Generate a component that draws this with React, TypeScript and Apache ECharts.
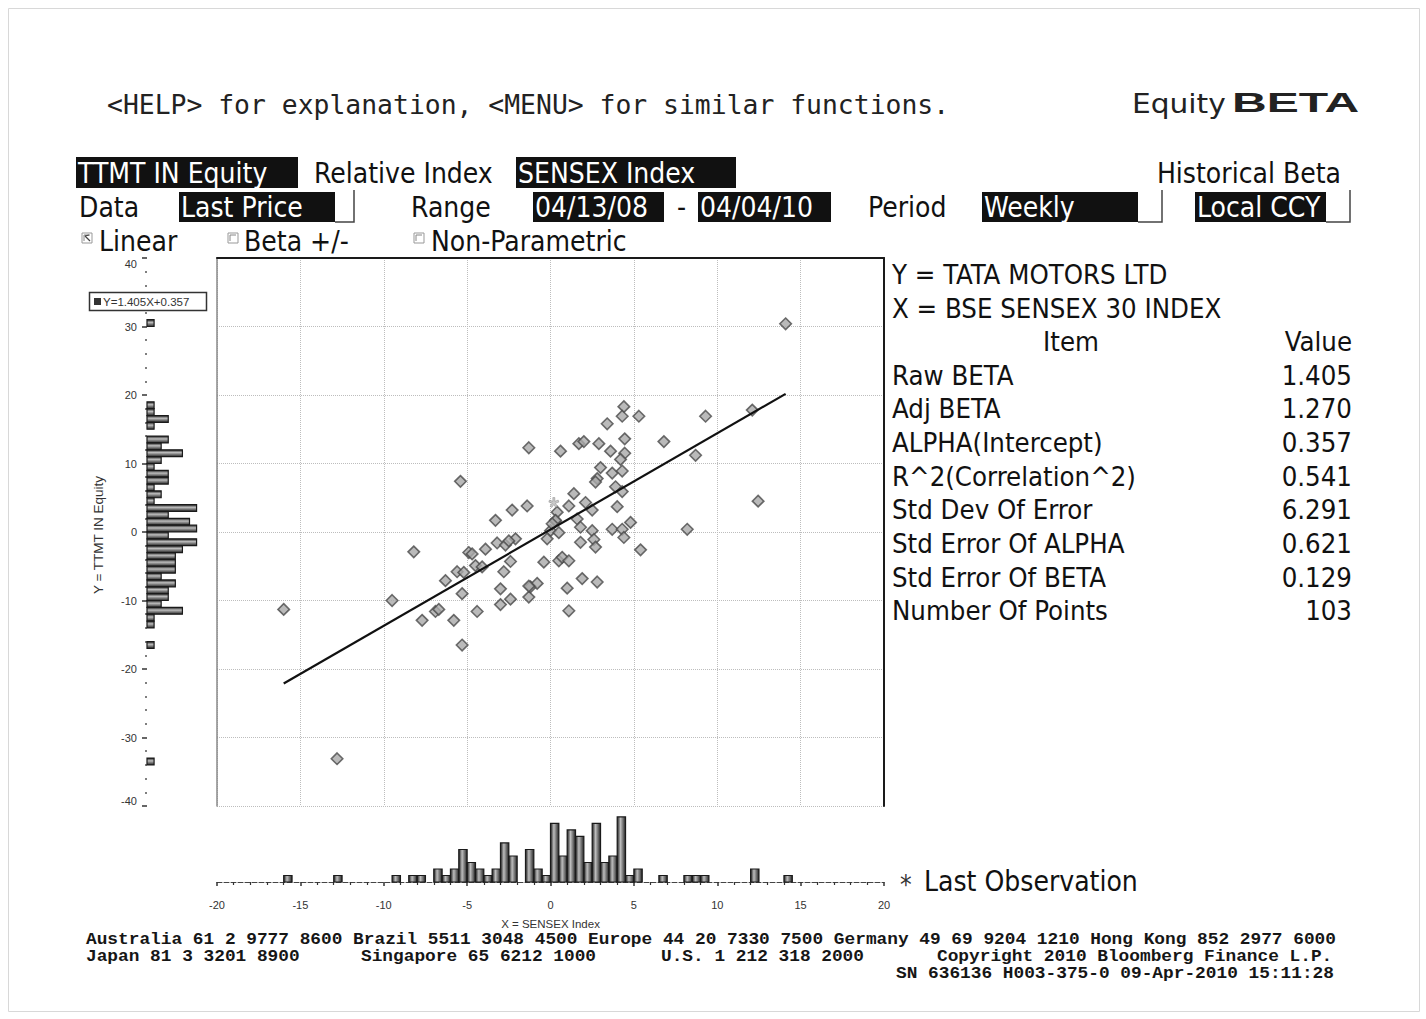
import React, { useEffect, useRef } from 'react';
import * as echarts from 'echarts';

// ---------- DATA ----------
// Weekly returns: [SENSEX (X), TTMT (Y)]
const scatterPoints: [number, number][] = [
  [14.1, 30.4], [-16.0, -11.3], [-12.8, -33.1], [-9.5, -10.0], [12.45, 4.5], [12.1, 17.8],
  [9.3, 16.9], [8.7, 11.2], [8.2, 0.4], [6.8, 13.2], [5.4, -2.6], [4.4, 18.3], [4.3, 16.9],
  [5.3, 16.9], [3.4, 15.8], [4.45, 13.6], [0.6, 11.8], [1.7, 12.9], [2.0, 13.2], [2.9, 12.9],
  [3.6, 11.8], [4.45, 11.5], [4.2, 10.6], [3.0, 9.4], [3.7, 8.6], [4.3, 8.9], [2.8, 7.8],
  [2.7, 7.3], [3.9, 6.6], [4.3, 5.9], [1.4, 5.6], [2.1, 4.3], [1.1, 3.8], [4.0, 3.7],
  [2.5, 3.2], [0.4, 2.9], [1.6, 1.9], [0.3, 1.6], [1.8, 0.7], [2.5, 0.2], [3.7, 0.4],
  [4.3, 0.4], [4.8, 1.4], [0.0, 0.2], [-0.2, -1.0], [0.5, -0.1], [2.6, -1.1], [1.8, -1.5],
  [2.7, -2.2], [4.4, -0.8], [0.5, -4.2], [0.7, -3.7], [1.1, -4.2], [-0.4, -4.4], [1.9, -6.8],
  [2.8, -7.3], [1.0, -8.2], [1.1, -11.5], [-8.2, -2.9], [-7.7, -12.9], [-6.9, -11.6],
  [-6.7, -11.3], [-5.8, -12.9], [-5.3, -16.5], [-5.3, -9.0], [-4.4, -11.6], [-6.3, -7.1],
  [-5.6, -5.8], [-5.2, -5.9], [-4.9, -3.0], [-4.7, -3.2], [-4.5, -4.9], [-4.1, -5.1],
  [-3.9, -2.5], [-3.2, -1.6], [-2.7, -1.9], [-2.1, -1.0], [-2.4, -4.3], [-2.8, -5.8],
  [-3.0, -8.3], [-3.0, -10.6], [-2.4, -9.8], [-1.3, -9.5], [-1.2, -8.0], [-0.8, -7.5],
  [-1.3, 12.3], [-5.4, 7.4], [-1.4, 3.8], [-2.3, 3.2], [-3.3, 1.7], [0.3, 1.7], [0.1, 1.2],
  [-2.5, -1.3], [-1.3, -7.9],
];
const lastObservation: [number, number] = [0.2, 4.3];

const RAW_BETA = 1.405;
const ALPHA = 0.357;

// X histogram (SENSEX), bins of 0.5
const X_BIN = 0.5;
const xHistBinStart = [-16, -13, -9.5, -8.5, -8, -7, -6.5, -6, -5.5, -5, -4.5, -4, -3.5, -3, -2.5,
  -1.5, -1, -0.5, 0, 0.5, 1, 1.5, 2, 2.5, 3, 3.5, 4, 4.5, 5, 6.5, 8, 8.5, 9, 12, 14];
const xHistCounts = [1, 1, 1, 1, 1, 2, 1, 2, 5, 3, 2, 1, 2, 6, 4,
  5, 2, 1, 9, 4, 8, 7, 3, 9, 3, 4, 10, 1, 2, 1, 1, 1, 1, 2, 1];

// Y histogram (TTMT), bins of 1
const Y_BIN = 1;
const yHistBinStart = [30, 18, 17, 16, 15, 13, 12, 11, 10, 9, 8, 7, 6, 5, 4, 3, 2, 1, 0, -1, -2, -3,
  -4, -5, -6, -7, -8, -9, -10, -11, -12, -13, -14, -17, -34];
const yHistCounts = [1, 1, 1, 3, 1, 3, 2, 5, 2, 1, 3, 3, 1, 2, 1, 7, 3, 6, 7, 3, 7, 5,
  4, 4, 4, 2, 4, 3, 3, 2, 5, 1, 1, 1, 1];

const X_MIN = -20, X_MAX = 20, X_INTERVAL = 5;
const Y_MIN = -40, Y_MAX = 40, Y_INTERVAL = 10;

const statItems = ['Raw BETA', 'Adj BETA', 'ALPHA(Intercept)', 'R^2(Correlation^2)', 'Std Dev Of Error',
  'Std Error Of ALPHA', 'Std Error Of BETA', 'Number Of Points'];
const statValues = ['1.405', '1.270', '0.357', '0.541', '6.291', '0.621', '0.129', '103'];

const footerLine1 = 'Australia 61 2 9777 8600 Brazil 5511 3048 4500 Europe 44 20 7330 7500 Germany 49 69 9204 1210 Hong Kong 852 2977 6000';
const footerLine2 = ['Japan 81 3 3201 8900', 'Singapore 65 6212 1000', 'U.S. 1 212 318 2000', 'Copyright 2010 Bloomberg Finance L.P.'];
const footerLine3 = 'SN 636136 H003-375-0 09-Apr-2010 15:11:28';

// ---------- STYLE ----------
const UI = '"DejaVu Sans Condensed", "DejaVu Sans", sans-serif';
const MONO = '"DejaVu Sans Mono", monospace';
const FOOT = '"Liberation Mono", monospace';
const SMALL = '"Liberation Sans", Arial, sans-serif';
const HDR = 28;
const STAT = 27.3;

function text(t: string, x: number, y: number, o: any = {}) {
  const style: any = {
    text: t, x, y,
    fontFamily: o.fontFamily || UI,
    fontSize: o.fontSize || HDR,
    fontWeight: o.fontWeight || 'normal',
    fill: o.fill || '#111',
    textAlign: o.align || 'left',
    textVerticalAlign: 'middle',
  };
  return { type: 'text', z: 10, style };
}
function footText(t: string, x: number, y: number, align: string = 'left') {
  return {
    type: 'text', z: 10, x, y, scaleX: 1.08,
    style: {
      text: t, x: 0, y: 0, fontFamily: FOOT, fontSize: 16.5, fontWeight: 'bold', fill: '#161616',
      textAlign: align, textVerticalAlign: 'middle',
    },
  };
}
function box(x: number, y: number, w: number, h: number) {
  return { type: 'rect', z: 5, shape: { x, y, width: w, height: h }, style: { fill: '#111' } };
}
function bracket(x0: number, x1: number, y0: number, y1: number) {
  return { type: 'polyline', z: 5, shape: { points: [[x0, y1], [x1, y1], [x1, y0]] }, style: { stroke: '#444', lineWidth: 1.5, fill: 'none' } };
}
function checkbox(x: number, y: number, checked: boolean) {
  const els: any[] = [
    { type: 'rect', z: 5, shape: { x, y, width: 10, height: 10 }, style: { fill: '#fff', stroke: '#999', lineWidth: 1 } },
    { type: 'polyline', z: 6, shape: { points: [[x + 2, y + 8], [x + 2, y + 2], [x + 8, y + 2]] }, style: { stroke: '#888', lineWidth: 1, fill: 'none' } },
  ];
  if (checked) {
    els.push({ type: 'line', z: 6, shape: { x1: x + 3, y1: y + 3, x2: x + 8, y2: y + 8 }, style: { stroke: '#444', lineWidth: 1.2 } });
    els.push({ type: 'line', z: 6, shape: { x1: x + 3, y1: y + 3, x2: x + 7, y2: y + 2 }, style: { stroke: '#444', lineWidth: 1.2 } });
  }
  return els;
}

export default function App() {
  const ref = useRef<HTMLDivElement>(null);

  useEffect(() => {
    if (!ref.current) return;
    const chart = echarts.init(ref.current, null, { renderer: 'svg' });

    const xs = scatterPoints.map((p) => p[0]);
    const minX = Math.min(...xs);
    const maxX = Math.max(...xs);
    const regression = [
      [minX, ALPHA + RAW_BETA * minX],
      [maxX, ALPHA + RAW_BETA * maxX],
    ];

    const gradH = new echarts.graphic.LinearGradient(0, 0, 1, 0, [
      { offset: 0, color: '#1e1e1e' }, { offset: 0.4, color: '#bdbdbd' }, { offset: 1, color: '#262626' },
    ]);
    const gradV = new echarts.graphic.LinearGradient(0, 0, 0, 1, [
      { offset: 0, color: '#1e1e1e' }, { offset: 0.4, color: '#bdbdbd' }, { offset: 1, color: '#262626' },
    ]);

    const graphics: any[] = [];
    // page frame
    graphics.push({ type: 'rect', z: 1, shape: { x: 8.5, y: 8.5, width: 1411, height: 1003 }, style: { fill: 'none', stroke: '#d8d8d8', lineWidth: 1 } });
    // header
    graphics.push(text('<HELP> for explanation, <MENU> for similar functions.', 107, 104, { fontFamily: MONO, fontSize: 26.4, fill: '#222' }));
    graphics.push({
      type: 'text', z: 10, x: 1132, y: 104, scaleX: 1.22,
      style: { text: 'Equity', x: 0, y: 0, fontFamily: UI, fontSize: 27, fill: '#222', textAlign: 'left', textVerticalAlign: 'middle' },
    });
    graphics.push({
      type: 'text', z: 10, x: 1232, y: 103, scaleX: 1.78,
      style: { text: 'BETA', x: 0, y: 0, fontFamily: SMALL, fontSize: 27, fontWeight: 'bold', fill: '#222', textAlign: 'left', textVerticalAlign: 'middle' },
    });
    // row 1
    graphics.push(box(76, 157, 222, 31));
    graphics.push(text('TTMT IN Equity', 78, 173, { fill: '#fff' }));
    graphics.push(text('Relative Index', 314, 173));
    graphics.push(box(516, 157, 220, 31));
    graphics.push(text('SENSEX Index', 518, 173, { fill: '#fff' }));
    graphics.push(text('Historical Beta', 1341, 173, { align: 'right' }));
    // row 2
    graphics.push(text('Data', 79, 207));
    graphics.push(box(179, 192, 156, 30));
    graphics.push(text('Last Price', 181, 207, { fill: '#fff' }));
    graphics.push(bracket(335, 354, 190, 222));
    graphics.push(text('Range', 411, 207));
    graphics.push(box(533, 192, 131, 30));
    graphics.push(text('04/13/08', 535, 207, { fill: '#fff' }));
    graphics.push(text('-', 677, 207));
    graphics.push(box(698, 192, 133, 30));
    graphics.push(text('04/04/10', 700, 207, { fill: '#fff' }));
    graphics.push(text('Period', 868, 207));
    graphics.push(box(982, 192, 156, 30));
    graphics.push(text('Weekly', 984, 207, { fill: '#fff' }));
    graphics.push(bracket(1138, 1162, 190, 222));
    graphics.push(box(1195, 192, 131, 30));
    graphics.push(text('Local CCY', 1197, 207, { fill: '#fff' }));
    graphics.push(bracket(1326, 1350, 190, 222));
    // row 3
    graphics.push(...checkbox(82, 233, true));
    graphics.push(text('Linear', 99, 241));
    graphics.push(...checkbox(228, 233, false));
    graphics.push(text('Beta +/-', 244, 241));
    graphics.push(...checkbox(414, 233, false));
    graphics.push(text('Non-Parametric', 431, 241));

    // stats panel
    graphics.push(text('Y = TATA MOTORS LTD', 892, 274, { fontSize: STAT }));
    graphics.push(text('X = BSE SENSEX 30 INDEX', 892, 308, { fontSize: STAT }));
    graphics.push(text('Item', 1071, 341, { align: 'center', fontSize: STAT }));
    graphics.push(text('Value', 1352, 341, { align: 'right', fontSize: STAT }));
    statItems.forEach((s, i) => {
      const y = 375 + i * 33.7;
      graphics.push(text(s, 892, y, { fontSize: STAT }));
      graphics.push(text(statValues[i], 1352, y, { align: 'right', fontSize: STAT }));
    });

    // legend for last observation
    graphics.push(text('*', 900, 885, { fontSize: 26, fill: '#333' }));
    graphics.push(text('Last Observation', 924, 881, { fontSize: 28 }));

    // regression equation box
    graphics.push({ type: 'rect', z: 5, shape: { x: 89.5, y: 292.5, width: 117, height: 18 }, style: { fill: '#fff', stroke: '#333', lineWidth: 1.5 } });
    graphics.push({ type: 'rect', z: 6, shape: { x: 94, y: 298, width: 7, height: 7 }, style: { fill: '#333' } });
    graphics.push(text('Y=' + RAW_BETA.toFixed(3) + 'X+' + ALPHA.toFixed(3), 103, 301.5, { fontFamily: SMALL, fontSize: 11.5, fill: '#333' }));

    // y axis name
    graphics.push({
      type: 'text', z: 10, x: 98, y: 535, rotation: Math.PI / 2,
      style: { text: 'Y = TTMT IN Equity', x: 0, y: 0, fontFamily: SMALL, fontSize: 13.5, fill: '#333', textAlign: 'center', textVerticalAlign: 'middle' },
    });

    // footer
    graphics.push(footText(footerLine1, 86, 940));
    const f2x = [86, 361, 661, 937];
    footerLine2.forEach((s, i) => graphics.push(footText(s, f2x[i], 957)));
    graphics.push(footText(footerLine3, 1334, 974, 'right'));

    const dotted = { type: 'dotted' as const, color: '#bdbdbd', width: 1 };

    const option: any = {
      animation: false,
      backgroundColor: '#ffffff',
      grid: [
        { left: 217, top: 258, width: 667, height: 548 },
        { left: 217, top: 815, width: 667, height: 67 },
        { left: 147, top: 258, width: 68, height: 548 },
      ],
      xAxis: [
        {
          gridIndex: 0, type: 'value', min: X_MIN, max: X_MAX, interval: X_INTERVAL, position: 'top',
          axisLine: { show: true, onZero: false, lineStyle: { color: '#1a1a1a', width: 2 } },
          axisTick: { show: false }, axisLabel: { show: false },
          splitLine: { show: true, lineStyle: dotted },
        },
        {
          gridIndex: 1, type: 'value', min: X_MIN, max: X_MAX, interval: X_INTERVAL, position: 'bottom',
          axisLine: { show: true, onZero: false, lineStyle: { color: '#444', width: 1, type: [5, 2] } },
          axisTick: { show: true, length: 4, lineStyle: { color: '#333', width: 1.5 } },
          minorTick: { show: true, splitNumber: 5, length: 3, lineStyle: { color: '#333', width: 1.2 } },
          axisLabel: { fontFamily: SMALL, fontSize: 11, color: '#333', margin: 17 },
          splitLine: { show: false },
          name: 'X = SENSEX Index', nameLocation: 'middle', nameGap: 36,
          nameTextStyle: { fontFamily: SMALL, fontSize: 11.5, color: '#333' },
        },
        { gridIndex: 2, type: 'value', min: 0, max: 9.6, show: false },
      ],
      yAxis: [
        {
          gridIndex: 0, type: 'value', min: Y_MIN, max: Y_MAX, interval: Y_INTERVAL, position: 'left',
          axisLine: { show: true, onZero: false, lineStyle: { color: '#8a8a8a', width: 1.5 } },
          axisTick: { show: false }, axisLabel: { show: false },
          splitLine: { show: true, lineStyle: dotted },
        },
        {
          gridIndex: 0, type: 'value', min: Y_MIN, max: Y_MAX, interval: Y_INTERVAL, position: 'right',
          axisLine: { show: true, onZero: false, lineStyle: { color: '#1a1a1a', width: 2 } },
          axisTick: { show: false }, axisLabel: { show: false }, splitLine: { show: false },
        },
        { gridIndex: 1, type: 'value', min: 0, max: 10.3, show: false },
        {
          gridIndex: 2, type: 'value', min: Y_MIN, max: Y_MAX, interval: Y_INTERVAL, position: 'left',
          axisLine: { show: false, onZero: false },
          axisTick: { show: true, length: 5, lineStyle: { color: '#333', width: 1.5 } },
          minorTick: { show: true, splitNumber: 5, length: 2, lineStyle: { color: '#555', width: 1.5 } },
          axisLabel: {
            fontFamily: SMALL, fontSize: 11, color: '#333', margin: 10,
            verticalAlignMaxLabel: 'top', verticalAlignMinLabel: 'bottom',
          },
          splitLine: { show: false },
        },
      ],
      series: [
        {
          type: 'scatter', xAxisIndex: 0, yAxisIndex: 0, data: scatterPoints,
          symbol: 'diamond', symbolSize: 11.5,
          itemStyle: { color: '#a9a9a9', borderColor: '#4a4a4a', borderWidth: 1.6 },
          z: 3,
        },
        {
          type: 'line', xAxisIndex: 0, yAxisIndex: 0, data: regression, symbol: 'none',
          lineStyle: { color: '#111', width: 2.2 }, z: 4,
        },
        {
          type: 'scatter', xAxisIndex: 0, yAxisIndex: 0, data: [lastObservation],
          symbol: 'path://M4,0 L6,0 L6,3.5 L9.3,2.4 L9.9,4.3 L6.6,5.4 L8.6,8.2 L7,9.4 L5,6.6 L3,9.4 L1.4,8.2 L3.4,5.4 L0.1,4.3 L0.7,2.4 L4,3.5 Z',
          symbolSize: 10, itemStyle: { color: '#bbb', borderColor: '#777', borderWidth: 0.5 }, z: 5,
        },
        {
          type: 'custom', xAxisIndex: 1, yAxisIndex: 2,
          data: xHistBinStart.map((b, i) => [b, xHistCounts[i]]),
          renderItem: (_p: any, api: any) => {
            const x0 = api.value(0), c = api.value(1);
            const a = api.coord([x0, c]);
            const b = api.coord([x0 + X_BIN, 0]);
            return {
              type: 'rect',
              shape: { x: a[0], y: a[1], width: b[0] - a[0], height: b[1] - a[1] },
              style: { fill: gradH, stroke: '#1a1a1a', lineWidth: 1.2 },
            };
          },
          z: 3,
        },
        {
          type: 'custom', xAxisIndex: 2, yAxisIndex: 3,
          data: yHistBinStart.map((b, i) => [b, yHistCounts[i]]),
          renderItem: (_p: any, api: any) => {
            const y0 = api.value(0), c = api.value(1);
            const a = api.coord([c, y0 + Y_BIN]);
            const b = api.coord([0, y0]);
            return {
              type: 'rect',
              shape: { x: b[0], y: a[1], width: a[0] - b[0], height: b[1] - a[1] },
              style: { fill: gradV, stroke: '#1a1a1a', lineWidth: 1.2 },
            };
          },
          z: 3,
        },
      ],
      graphic: { elements: graphics },
    };

    chart.setOption(option);
    return () => chart.dispose();
  }, []);

  return (
    <div
      ref={ref}
      style={{ position: 'absolute', left: 0, top: 0, width: 1426, height: 1019, background: '#fff' }}
    />
  );
}
